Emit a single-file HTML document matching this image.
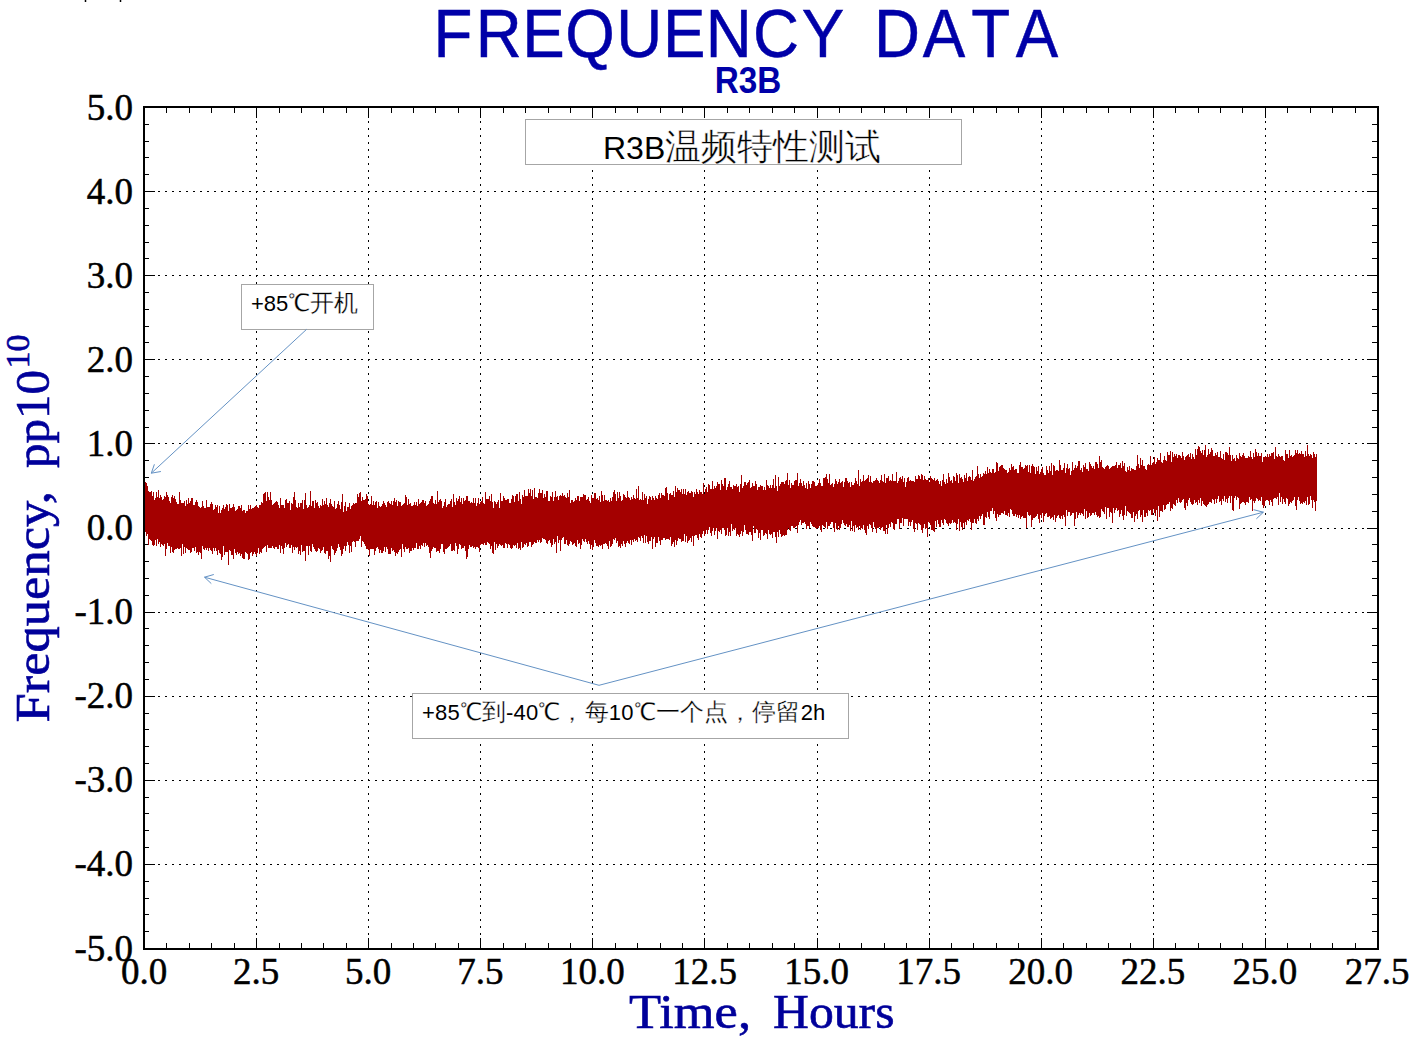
<!DOCTYPE html>
<html><head><meta charset="utf-8">
<style>
html,body{margin:0;padding:0;background:#fff;width:1411px;height:1038px;overflow:hidden}
svg{display:block}
.serif{font-family:"Liberation Serif",serif}
.sans{font-family:"Liberation Sans",sans-serif}
</style></head><body>
<svg width="1411" height="1038" viewBox="0 0 1411 1038">
<rect width="1411" height="1038" fill="#fff"/>
<path d="M85.5 0v2M120.5 0v2" stroke="#000" stroke-width="1.5"/>
<text class="sans" transform="translate(0 57) scale(0.93 1)" x="487.1 536.2 584.4 634.4 687.3 735.8 783.7 834.4 884.9 964.5 1015.1 1065.2 1115.1" y="0" text-anchor="middle" font-size="68.5" fill="#0000a8" stroke="#0000a8" stroke-width="0.5" style="font-kerning:none">FREQUENCYDATA</text>
<text class="sans" transform="translate(748 93) scale(0.9 1)" x="0" y="0" text-anchor="middle" font-size="37" font-weight="bold" fill="#0000a8">R3B</text>
<path d="M144 864.5H1377M144 780.5H1377M144 696.5H1377M144 612.5H1377M144 528.5H1377M144 443.5H1377M144 359.5H1377M144 275.5H1377M144 191.5H1377" stroke="#000" stroke-width="1" stroke-dasharray="2 5" fill="none" shape-rendering="crispEdges"/>
<path d="M256.5 107V948M368.5 107V948M480.5 107V948M592.5 107V948M704.5 107V948M817.5 107V948M929.5 107V948M1041.5 107V948M1153.5 107V948M1265.5 107V948" stroke="#000" stroke-width="1" stroke-dasharray="1.5 5.5" fill="none" shape-rendering="crispEdges"/>
<path d="M145 107.5h10M1367 107.5h10M145 124.5h4M1372 124.5h5M145 141.5h4M1372 141.5h5M145 157.5h4M1372 157.5h5M145 174.5h4M1372 174.5h5M145 191.5h10M1367 191.5h10M145 208.5h4M1372 208.5h5M145 225.5h4M1372 225.5h5M145 242.5h4M1372 242.5h5M145 258.5h4M1372 258.5h5M145 275.5h10M1367 275.5h10M145 292.5h4M1372 292.5h5M145 309.5h4M1372 309.5h5M145 326.5h4M1372 326.5h5M145 342.5h4M1372 342.5h5M145 359.5h10M1367 359.5h10M145 376.5h4M1372 376.5h5M145 393.5h4M1372 393.5h5M145 410.5h4M1372 410.5h5M145 427.5h4M1372 427.5h5M145 443.5h10M1367 443.5h10M145 460.5h4M1372 460.5h5M145 477.5h4M1372 477.5h5M145 494.5h4M1372 494.5h5M145 511.5h4M1372 511.5h5M145 528.5h10M1367 528.5h10M145 544.5h4M1372 544.5h5M145 561.5h4M1372 561.5h5M145 578.5h4M1372 578.5h5M145 595.5h4M1372 595.5h5M145 612.5h10M1367 612.5h10M145 628.5h4M1372 628.5h5M145 645.5h4M1372 645.5h5M145 662.5h4M1372 662.5h5M145 679.5h4M1372 679.5h5M145 696.5h10M1367 696.5h10M145 713.5h4M1372 713.5h5M145 729.5h4M1372 729.5h5M145 746.5h4M1372 746.5h5M145 763.5h4M1372 763.5h5M145 780.5h10M1367 780.5h10M145 797.5h4M1372 797.5h5M145 813.5h4M1372 813.5h5M145 830.5h4M1372 830.5h5M145 847.5h4M1372 847.5h5M145 864.5h10M1367 864.5h10M145 881.5h4M1372 881.5h5M145 898.5h4M1372 898.5h5M145 914.5h4M1372 914.5h5M145 931.5h4M1372 931.5h5M145 948.5h10M1367 948.5h10M144.5 108v10M144.5 938v10M166.5 108v5M166.5 943v5M189.5 108v5M189.5 943v5M211.5 108v5M211.5 943v5M234.5 108v5M234.5 943v5M256.5 108v10M256.5 938v10M279.5 108v5M279.5 943v5M301.5 108v5M301.5 943v5M323.5 108v5M323.5 943v5M346.5 108v5M346.5 943v5M368.5 108v10M368.5 938v10M391.5 108v5M391.5 943v5M413.5 108v5M413.5 943v5M435.5 108v5M435.5 943v5M458.5 108v5M458.5 943v5M480.5 108v10M480.5 938v10M503.5 108v5M503.5 943v5M525.5 108v5M525.5 943v5M548.5 108v5M548.5 943v5M570.5 108v5M570.5 943v5M592.5 108v10M592.5 938v10M615.5 108v5M615.5 943v5M637.5 108v5M637.5 943v5M660.5 108v5M660.5 943v5M682.5 108v5M682.5 943v5M704.5 108v10M704.5 938v10M727.5 108v5M727.5 943v5M749.5 108v5M749.5 943v5M772.5 108v5M772.5 943v5M794.5 108v5M794.5 943v5M817.5 108v10M817.5 938v10M839.5 108v5M839.5 943v5M861.5 108v5M861.5 943v5M884.5 108v5M884.5 943v5M906.5 108v5M906.5 943v5M929.5 108v10M929.5 938v10M951.5 108v5M951.5 943v5M973.5 108v5M973.5 943v5M996.5 108v5M996.5 943v5M1018.5 108v5M1018.5 943v5M1041.5 108v10M1041.5 938v10M1063.5 108v5M1063.5 943v5M1086.5 108v5M1086.5 943v5M1108.5 108v5M1108.5 943v5M1130.5 108v5M1130.5 943v5M1153.5 108v10M1153.5 938v10M1175.5 108v5M1175.5 943v5M1198.5 108v5M1198.5 943v5M1220.5 108v5M1220.5 943v5M1242.5 108v5M1242.5 943v5M1265.5 108v10M1265.5 938v10M1287.5 108v5M1287.5 943v5M1310.5 108v5M1310.5 943v5M1332.5 108v5M1332.5 943v5M1355.5 108v5M1355.5 943v5M1377.5 108v10M1377.5 938v10" stroke="#000" stroke-width="1" fill="none" shape-rendering="crispEdges"/>
<path d="M144 479H145V482H146V483H147V486H148V491H149V492H150V492H151V491H152V496H153V492H154V500H155V498H156V492H157V497H158V490H159V498H160V495H161V497H162V500H163V499H164V496H165V497H166V492H167V495H168V497H169V501H170V503H171V497H172V495H173V498H174V496H175V499H176V502H177V504H178V504H179V492H180V500H181V503H182V503H183V503H184V501H185V506H186V500H187V504H188V498H189V503H190V501H191V498H192V498H193V505H194V505H195V502H196V500H197V502H198V506H199V507H200V508H201V507H202V501H203V506H204V508H205V508H206V500H207V507H208V507H209V507H210V504H211V502H212V504H213V510H214V509H215V505H216V507H217V505H218V513H219V506H220V513H221V510H222V508H223V505H224V509H225V507H226V504H227V505H228V511H229V504H230V508H231V508H232V507H233V504H234V507H235V511H236V510H237V509H238V506H239V506H240V508H241V505H242V511H243V510H244V510H245V513H246V511H247V511H248V505H249V509H250V505H251V509H252V508H253V508H254V507H255V506H256V505H257V507H258V508H259V505H260V505H261V502H262V503H263V494H264V493H265V492H266V501H267V492H268V497H269V500H270V492H271V500H272V505H273V504H274V503H275V502H276V501H277V502H278V505H279V508H280V498H281V505H282V505H283V505H284V508H285V500H286V499H287V503H288V503H289V501H290V510H291V503H292V504H293V497H294V492H295V500H296V507H297V508H298V503H299V507H300V503H301V503H302V500H303V509H304V500H305V493H306V505H307V508H308V507H309V505H310V491H311V506H312V501H313V501H314V508H315V500H316V503H317V502H318V506H319V508H320V505H321V506H322V499H323V505H324V501H325V504H326V498H327V505H328V507H329V503H330V499H331V504H332V506H333V507H334V501H335V509H336V508H337V504H338V501H339V505H340V509H341V502H342V494H343V512H344V506H345V502H346V511H347V507H348V507H349V503H350V509H351V506H352V505H353V503H354V504H355V503H356V503H357V494H358V497H359V493H360V492H361V501H362V497H363V500H364V500H365V499H366V494H367V496H368V504H369V505H370V504H371V496H372V505H373V501H374V505H375V502H376V501H377V508H378V502H379V506H380V507H381V506H382V504H383V501H384V503H385V505H386V507H387V502H388V501H389V503H390V504H391V501H392V505H393V501H394V498H395V502H396V500H397V506H398V501H399V502H400V502H401V506H402V505H403V504H404V503H405V495H406V497H407V505H408V499H409V504H410V503H411V506H412V506H413V505H414V502H415V505H416V502H417V506H418V499H419V504H420V503H421V502H422V500H423V500H424V503H425V501H426V506H427V505H428V504H429V501H430V499H431V496H432V496H433V503H434V504H435V500H436V504H437V491H438V502H439V500H440V499H441V501H442V508H443V506H444V502H445V499H446V507H447V505H448V504H449V504H450V501H451V499H452V507H453V494H454V502H455V505H456V498H457V501H458V499H459V496H460V502H461V498H462V504H463V498H464V501H465V500H466V496H467V496H468V501H469V501H470V503H471V502H472V503H473V498H474V503H475V498H476V506H477V503H478V498H479V504H480V502H481V501H482V497H483V503H484V504H485V492H486V499H487V499H488V499H489V496H490V501H491V494H492V502H493V508H494V501H495V502H496V504H497V502H498V500H499V508H500V493H501V501H502V501H503V496H504V498H505V500H506V500H507V499H508V499H509V503H510V503H511V499H512V495H513V496H514V502H515V496H516V494H517V494H518V501H519V492H520V499H521V504H522V495H523V497H524V490H525V496H526V496H527V496H528V489H529V493H530V489H531V496H532V490H533V499H534V488H535V497H536V497H537V498H538V493H539V489H540V493H541V493H542V490H543V498H544V494H545V497H546V491H547V491H548V501H549V501H550V496H551V497H552V492H553V501H554V497H555V491H556V497H557V496H558V500H559V496H560V495H561V496H562V493H563V496H564V495H565V497H566V498H567V493H568V497H569V490H570V503H571V500H572V500H573V502H574V501H575V498H576V500H577V496H578V496H579V501H580V497H581V497H582V497H583V494H584V495H585V495H586V500H587V499H588V497H589V501H590V503H591V495H592V498H593V498H594V493H595V493H596V499H597V498H598V500H599V496H600V502H601V491H602V495H603V501H604V495H605V500H606V500H607V501H608V500H609V502H610V498H611V501H612V497H613V492H614V490H615V494H616V501H617V492H618V498H619V492H620V496H621V501H622V500H623V494H624V495H625V497H626V498H627V491H628V497H629V498H630V500H631V497H632V499H633V495H634V498H635V499H636V489H637V498H638V486H639V500H640V499H641V500H642V492H643V500H644V494H645V498H646V496H647V504H648V499H649V496H650V497H651V500H652V496H653V498H654V500H655V496H656V498H657V499H658V495H659V493H660V498H661V493H662V495H663V495H664V496H665V488H666V487H667V493H668V500H669V494H670V493H671V495H672V495H673V491H674V497H675V486H676V492H677V488H678V490H679V490H680V492H681V489H682V494H683V489H684V494H685V489H686V495H687V492H688V491H689V493H690V493H691V491H692V492H693V497H694V492H695V494H696V489H697V492H698V494H699V490H700V492H701V492H702V494H703V483H704V494H705V489H706V487H707V492H708V484H709V485H710V489H711V489H712V481H713V489H714V486H715V488H716V486H717V482H718V484H719V484H720V490H721V480H722V484H723V486H724V478H725V478H726V490H727V487H728V484H729V481H730V487H731V487H732V489H733V485H734V486H735V486H736V484H737V487H738V486H739V492H740V484H741V475H742V488H743V486H744V482H745V482H746V485H747V483H748V482H749V480H750V488H751V487H752V483H753V486H754V486H755V481H756V484H757V490H758V487H759V487H760V485H761V486H762V486H763V490H764V487H765V490H766V480H767V485H768V486H769V488H770V485H771V488H772V485H773V479H774V488H775V475H776V486H777V491H778V477H779V486H780V484H781V482H782V482H783V482H784V484H785V481H786V480H787V473H788V485H789V480H790V488H791V483H792V485H793V485H794V481H795V480H796V480H797V473H798V486H799V483H800V479H801V483H802V486H803V481H804V485H805V488H806V483H807V489H808V481H809V484H810V488H811V484H812V481H813V481H814V482H815V486H816V486H817V485H818V483H819V479H820V483H821V486H822V486H823V478H824V478H825V477H826V474H827V479H828V483H829V474H830V485H831V484H832V483H833V487H834V484H835V479H836V481H837V484H838V482H839V479H840V483H841V482H842V481H843V487H844V482H845V478H846V478H847V481H848V483H849V482H850V487H851V482H852V485H853V485H854V483H855V478H856V481H857V484H858V470H859V486H860V479H861V482H862V481H863V475H864V481H865V480H866V479H867V478H868V475H869V482H870V476H871V482H872V483H873V481H874V481H875V480H876V478H877V480H878V481H879V483H880V480H881V475H882V481H883V482H884V474H885V483H886V478H887V478H888V476H889V481H890V480H891V481H892V474H893V481H894V481H895V481H896V472H897V483H898V481H899V478H900V477H901V479H902V476H903V482H904V478H905V487H906V482H907V478H908V477H909V481H910V480H911V481H912V481H913V481H914V482H915V476H916V479H917V479H918V475H919V476H920V479H921V474H922V475H923V480H924V476H925V479H926V480H927V480H928V478H929V482H930V476H931V478H932V479H933V480H934V478H935V481H936V480H937V479H938V481H939V484H940V481H941V486H942V480H943V474H944V482H945V484H946V479H947V483H948V473H949V477H950V481H951V480H952V483H953V476H954V477H955V481H956V473H957V475H958V483H959V474H960V478H961V477H962V479H963V482H964V475H965V478H966V473H967V481H968V477H969V476H970V477H971V480H972V470H973V481H974V479H975V477H976V476H977V466H978V474H979V478H980V474H981V477H982V476H983V473H984V474H985V471H986V474H987V467H988V473H989V469H990V472H991V473H992V469H993V469H994V473H995V472H996V462H997V463H998V471H999V467H1000V466H1001V465H1002V465H1003V468H1004V469H1005V470H1006V470H1007V473H1008V472H1009V468H1010V470H1011V464H1012V467H1013V466H1014V470H1015V469H1016V469H1017V473H1018V473H1019V465H1020V462H1021V467H1022V467H1023V469H1024V468H1025V465H1026V466H1027V465H1028V472H1029V465H1030V473H1031V466H1032V464H1033V466H1034V467H1035V474H1036V467H1037V471H1038V466H1039V474H1040V472H1041V469H1042V467H1043V473H1044V475H1045V475H1046V466H1047V470H1048V473H1049V466H1050V471H1051V463H1052V475H1053V465H1054V466H1055V471H1056V470H1057V470H1058V471H1059V460H1060V465H1061V470H1062V470H1063V468H1064V463H1065V473H1066V468H1067V464H1068V469H1069V468H1070V475H1071V471H1072V462H1073V470H1074V468H1075V465H1076V468H1077V466H1078V461H1079V461H1080V470H1081V468H1082V472H1083V465H1084V467H1085V463H1086V469H1087V469H1088V471H1089V462H1090V464H1091V466H1092V468H1093V466H1094V469H1095V462H1096V462H1097V464H1098V468H1099V456H1100V462H1101V460H1102V467H1103V468H1104V469H1105V467H1106V466H1107V465H1108V466H1109V469H1110V468H1111V467H1112V466H1113V466H1114V466H1115V465H1116V462H1117V468H1118V465H1119V465H1120V463H1121V468H1122V461H1123V466H1124V463H1125V471H1126V472H1127V467H1128V470H1129V466H1130V471H1131V468H1132V469H1133V469H1134V470H1135V470H1136V466H1137V455H1138V464H1139V468H1140V458H1141V465H1142V460H1143V466H1144V466H1145V469H1146V470H1147V465H1148V464H1149V465H1150V456H1151V465H1152V463H1153V462H1154V457H1155V464H1156V462H1157V458H1158V460H1159V460H1160V453H1161V462H1162V463H1163V460H1164V456H1165V460H1166V461H1167V452H1168V455H1169V455H1170V451H1171V462H1172V452H1173V457H1174V454H1175V456H1176V454H1177V458H1178V455H1179V455H1180V456H1181V458H1182V452H1183V456H1184V460H1185V457H1186V456H1187V455H1188V454H1189V457H1190V453H1191V459H1192V454H1193V457H1194V459H1195V449H1196V455H1197V449H1198V446H1199V447H1200V451H1201V453H1202V450H1203V455H1204V450H1205V445H1206V457H1207V455H1208V449H1209V454H1210V452H1211V448H1212V450H1213V456H1214V456H1215V453H1216V455H1217V452H1218V457H1219V457H1220V451H1221V458H1222V459H1223V454H1224V460H1225V452H1226V452H1227V453H1228V455H1229V447H1230V455H1231V461H1232V455H1233V459H1234V458H1235V461H1236V455H1237V458H1238V459H1239V453H1240V456H1241V457H1242V455H1243V453H1244V456H1245V458H1246V458H1247V458H1248V456H1249V457H1250V451H1251V457H1252V459H1253V453H1254V457H1255V449H1256V452H1257V456H1258V453H1259V456H1260V456H1261V453H1262V462H1263V457H1264V457H1265V456H1266V457H1267V454H1268V457H1269V454H1270V456H1271V453H1272V453H1273V452H1274V459H1275V447H1276V456H1277V457H1278V454H1279V456H1280V457H1281V456H1282V456H1283V460H1284V461H1285V450H1286V454H1287V454H1288V458H1289V450H1290V456H1291V455H1292V457H1293V456H1294V455H1295V450H1296V453H1297V450H1298V454H1299V453H1300V454H1301V451H1302V454H1303V454H1304V457H1305V451H1306V456H1307V445H1308V454H1309V456H1310V454H1311V455H1312V458H1313V452H1314V454H1315V457H1316V454H1317V501H1316V511H1315V502H1314V500H1313V508H1312V500H1311V496H1310V504H1309V505H1308V497H1307V505H1306V501H1305V503H1304V502H1303V504H1302V503H1301V504H1300V501H1299V497H1298V500H1297V510H1296V506H1295V497H1294V500H1293V501H1292V503H1291V502H1290V504H1289V506H1288V499H1287V498H1286V504H1285V502H1284V499H1283V504H1282V497H1281V502H1280V493H1279V505H1278V497H1277V499H1276V498H1275V498H1274V499H1273V506H1272V502H1271V500H1270V505H1269V501H1268V500H1267V500H1266V501H1265V506H1264V508H1263V505H1262V497H1261V501H1260V500H1259V501H1258V499H1257V498H1256V501H1255V503H1254V501H1253V511H1252V499H1251V500H1250V497H1249V503H1248V502H1247V502H1246V505H1245V503H1244V502H1243V502H1242V503H1241V504H1240V509H1239V498H1238V497H1237V500H1236V496H1235V498H1234V511H1233V510H1232V496H1231V503H1230V496H1229V498H1228V503H1227V499H1226V502H1225V496H1224V501H1223V499H1222V505H1221V501H1220V502H1219V496H1218V499H1217V503H1216V499H1215V504H1214V500H1213V499H1212V503H1211V502H1210V502H1209V504H1208V505H1207V507H1206V506H1205V505H1204V504H1203V501H1202V506H1201V498H1200V503H1199V500H1198V505H1197V502H1196V503H1195V500H1194V504H1193V505H1192V504H1191V502H1190V498H1189V500H1188V506H1187V503H1186V510H1185V508H1184V499H1183V500H1182V502H1181V503H1180V502H1179V498H1178V503H1177V500H1176V506H1175V505H1174V504H1173V509H1172V508H1171V511H1170V502H1169V504H1168V504H1167V505H1166V509H1165V510H1164V505H1163V512H1162V511H1161V511H1160V517H1159V506H1158V521H1157V510H1156V516H1155V513H1154V509H1153V515H1152V515H1151V510H1150V511H1149V510H1148V516H1147V513H1146V517H1145V517H1144V510H1143V522H1142V515H1141V517H1140V510H1139V511H1138V519H1137V514H1136V516H1135V522H1134V512H1133V518H1132V518H1131V514H1130V513H1129V512H1128V511H1127V516H1126V506H1125V515H1124V520H1123V516H1122V510H1121V514H1120V517H1119V510H1118V511H1117V508H1116V510H1115V513H1114V508H1113V523H1112V513H1111V512H1110V517H1109V508H1108V508H1107V519H1106V507H1105V514H1104V512H1103V511H1102V509H1101V517H1100V518H1099V516H1098V517H1097V515H1096V512H1095V515H1094V513H1093V513H1092V515H1091V516H1090V513H1089V517H1088V518H1087V511H1086V519H1085V509H1084V516H1083V514H1082V513H1081V515H1080V513H1079V515H1078V518H1077V512H1076V519H1075V526H1074V513H1073V513H1072V515H1071V516H1070V512H1069V512H1068V516H1067V510H1066V526H1065V517H1064V515H1063V519H1062V516H1061V519H1060V518H1059V515H1058V516H1057V518H1056V522H1055V515H1054V520H1053V517H1052V518H1051V519H1050V516H1049V517H1048V517H1047V513H1046V514H1045V516H1044V522H1043V513H1042V518H1041V515H1040V523H1039V519H1038V514H1037V516H1036V517H1035V518H1034V518H1033V520H1032V527H1031V515H1030V516H1029V515H1028V512H1027V528H1026V518H1025V518H1024V518H1023V516H1022V517H1021V519H1020V515H1019V518H1018V515H1017V517H1016V514H1015V516H1014V516H1013V514H1012V510H1011V509H1010V517H1009V513H1008V516H1007V515H1006V515H1005V511H1004V514H1003V513H1002V513H1001V515H1000V515H999V517H998V514H997V521H996V518H995V511H994V514H993V508H992V511H991V511H990V519H989V517H988V512H987V518H986V517H985V525H984V525H983V514H982V516H981V519H980V516H979V521H978V519H977V524H976V523H975V519H974V523H973V523H972V530H971V522H970V519H969V521H968V520H967V525H966V522H965V528H964V523H963V530H962V527H961V522H960V531H959V519H958V524H957V530H956V523H955V522H954V523H953V520H952V523H951V524H950V523H949V526H948V524H947V523H946V520H945V519H944V525H943V523H942V520H941V527H940V527H939V524H938V520H937V527H936V521H935V532H934V531H933V530H932V530H931V525H930V523H929V522H928V537H927V528H926V529H925V524H924V528H923V533H922V530H921V525H920V524H919V523H918V530H917V524H916V523H915V532H914V529H913V520H912V522H911V526H910V522H909V526H908V519H907V519H906V519H905V519H904V526H903V518H902V523H901V523H900V529H899V519H898V519H897V524H896V524H895V530H894V529H893V523H892V522H891V527H890V524H889V528H888V534H887V525H886V534H885V531H884V531H883V527H882V528H881V530H880V527H879V528H878V528H877V533H876V529H875V527H874V522H873V532H872V528H871V525H870V524H869V529H868V526H867V535H866V533H865V530H864V525H863V529H862V528H861V530H860V526H859V530H858V527H857V528H856V525H855V532H854V526H853V531H852V521H851V531H850V525H849V527H848V527H847V524H846V526H845V525H844V523H843V520H842V524H841V528H840V530H839V526H838V530H837V529H836V523H835V532H834V528H833V522H832V522H831V524H830V526H829V526H828V529H827V522H826V528H825V527H824V526H823V525H822V532H821V530H820V526H819V528H818V528H817V529H816V528H815V527H814V527H813V526H812V524H811V522H810V528H809V526H808V526H807V529H806V524H805V522H804V523H803V523H802V525H801V520H800V522H799V525H798V533H797V526H796V527H795V528H794V528H793V526H792V526H791V531H790V530H789V528H788V530H787V535H786V535H785V536H784V535H783V536H782V537H781V534H780V530H779V537H778V532H777V543H776V537H775V532H774V532H773V538H772V534H771V535H770V534H769V530H768V539H767V534H766V533H765V535H764V536H763V530H762V530H761V540H760V533H759V538H758V530H757V529H756V533H755V533H754V526H753V541H752V535H751V532H750V532H749V535H748V534H747V534H746V530H745V525H744V532H743V536H742V531H741V534H740V537H739V535H738V534H737V536H736V528H735V530H734V529H733V531H732V524H731V536H730V532H729V536H728V528H727V535H726V536H725V530H724V528H723V528H722V534H721V530H720V532H719V531H718V539H717V528H716V531H715V535H714V528H713V531H712V536H711V533H710V527H709V530H708V534H707V530H706V534H705V536H704V531H703V534H702V538H701V537H700V534H699V540H698V538H697V535H696V535H695V536H694V546H693V536H692V542H691V538H690V540H689V541H688V543H687V536H686V542H685V534H684V541H683V541H682V542H681V539H680V539H679V538H678V541H677V545H676V540H675V547H674V542H673V544H672V546H671V537H670V540H669V539H668V539H667V539H666V540H665V538H664V538H663V540H662V540H661V545H660V541H659V537H658V543H657V543H656V547H655V537H654V539H653V549H652V537H651V541H650V541H649V544H648V542H647V536H646V543H645V535H644V543H643V538H642V536H641V541H640V538H639V537H638V542H637V540H636V541H635V539H634V542H633V540H632V545H631V540H630V544H629V543H628V541H627V543H626V547H625V544H624V541H623V546H622V544H621V548H620V546H619V547H618V541H617V543H616V538H615V540H614V539H613V544H612V546H611V547H610V541H609V549H608V546H607V544H606V543H605V544H604V544H603V549H602V545H601V546H600V545H599V547H598V546H597V546H596V543H595V540H594V547H593V550H592V545H591V549H590V544H589V541H588V544H587V542H586V539H585V542H584V541H583V539H582V545H581V549H580V543H579V544H578V540H577V547H576V546H575V543H574V544H573V545H572V542H571V541H570V544H569V546H568V545H567V540H566V544H565V544H564V537H563V538H562V540H561V551H560V540H559V543H558V536H557V553H556V542H555V544H554V539H553V545H552V547H551V543H550V540H549V541H548V544H547V543H546V540H545V539H544V539H543V538H542V542H541V543H540V540H539V542H538V540H537V543H536V543H535V542H534V544H533V545H532V547H531V542H530V542H529V546H528V547H527V543H526V545H525V544H524V547H523V548H522V542H521V550H520V548H519V549H518V543H517V548H516V545H515V546H514V545H513V548H512V549H511V548H510V545H509V544H508V548H507V544H506V543H505V548H504V548H503V545H502V546H501V545H500V544H499V546H498V548H497V544H496V550H495V542H494V554H493V553H492V546H491V549H490V544H489V543H488V542H487V545H486V545H485V543H484V545H483V544H482V544H481V545H480V552H479V548H478V547H477V547H476V549H475V547H474V548H473V546H472V547H471V547H470V545H469V549H468V557H467V559H466V551H465V546H464V548H463V548H462V549H461V545H460V544H459V549H458V554H457V546H456V543H455V551H454V550H453V551H452V551H451V544H450V546H449V547H448V548H447V549H446V549H445V554H444V552H443V544H442V544H441V549H440V553H439V551H438V551H437V552H436V548H435V548H434V547H433V549H432V551H431V558H430V553H429V547H428V545H427V546H426V543H425V547H424V543H423V546H422V545H421V549H420V546H419V549H418V549H417V543H416V548H415V548H414V550H413V548H412V551H411V551H410V553H409V548H408V549H407V549H406V547H405V552H404V549H403V544H402V557H401V549H400V550H399V552H398V554H397V553H396V556H395V552H394V550H393V551H392V548H391V554H390V554H389V554H388V549H387V547H386V552H385V547H384V551H383V553H382V553H381V550H380V553H379V549H378V547H377V548H376V551H375V555H374V549H373V549H372V549H371V549H370V556H369V550H368V549H367V549H366V546H365V544H364V542H363V541H362V547H361V536H360V539H359V541H358V541H357V541H356V547H355V542H354V541H353V542H352V552H351V546H350V553H349V545H348V542H347V546H346V551H345V546H344V549H343V554H342V556H341V550H340V547H339V544H338V548H337V551H336V553H335V555H334V550H333V549H332V546H331V562H330V556H329V559H328V551H327V551H326V554H325V553H324V547H323V550H322V551H321V553H320V549H319V548H318V551H317V552H316V551H315V549H314V547H313V544H312V552H311V551H310V546H309V555H308V546H307V546H306V561H305V551H304V551H303V552H302V545H301V555H300V551H299V554H298V547H297V548H296V547H295V550H294V547H293V553H292V545H291V548H290V548H289V544H288V545H287V547H286V543H285V548H284V554H283V549H282V546H281V553H280V545H279V549H278V549H277V547H276V547H275V549H274V548H273V546H272V548H271V548H270V548H269V548H268V545H267V552H266V546H265V547H264V548H263V549H262V553H261V552H260V554H259V548H258V553H257V556H256V554H255V552H254V554H253V556H252V552H251V553H250V559H249V560H248V554H247V553H246V552H245V559H244V559H243V558H242V554H241V556H240V553H239V554H238V552H237V555H236V553H235V549H234V559H233V555H232V555H231V551H230V550H229V565H228V552H227V552H226V552H225V555H224V546H223V557H222V560H221V554H220V553H219V550H218V555H217V551H216V548H215V551H214V548H213V554H212V551H211V550H210V548H209V551H208V548H207V550H206V548H205V550H204V549H203V546H202V559H201V553H200V552H199V555H198V552H197V553H196V547H195V551H194V548H193V548H192V552H191V553H190V550H189V550H188V549H187V548H186V553H185V547H184V554H183V544H182V556H181V548H180V549H179V549H178V548H177V549H176V549H175V550H174V553H173V552H172V547H171V553H170V546H169V546H168V543H167V549H166V556H165V544H164V546H163V545H162V544H161V547H160V542H159V544H158V539H157V546H156V540H155V545H154V546H153V545H152V541H151V540H150V539H149V545H148V534H147V536H146V532H145V532H144Z" fill="#a40000" shape-rendering="crispEdges"/>
<rect x="144" y="107" width="1234" height="842" fill="none" stroke="#000" stroke-width="2" shape-rendering="crispEdges"/>
<g class="serif" font-size="37" fill="#000" stroke="#000" stroke-width="0.5">
<text x="133" y="119.5" text-anchor="end">5.0</text><text x="133" y="203.6" text-anchor="end">4.0</text><text x="133" y="287.7" text-anchor="end">3.0</text><text x="133" y="371.8" text-anchor="end">2.0</text><text x="133" y="455.9" text-anchor="end">1.0</text><text x="133" y="540.0" text-anchor="end">0.0</text><text x="133" y="624.1" text-anchor="end">-1.0</text><text x="133" y="708.2" text-anchor="end">-2.0</text><text x="133" y="792.3" text-anchor="end">-3.0</text><text x="133" y="876.4" text-anchor="end">-4.0</text><text x="133" y="960.5" text-anchor="end">-5.0</text>
<text x="144.0" y="984" text-anchor="middle">0.0</text><text x="256.1" y="984" text-anchor="middle">2.5</text><text x="368.2" y="984" text-anchor="middle">5.0</text><text x="480.3" y="984" text-anchor="middle">7.5</text><text x="592.4" y="984" text-anchor="middle">10.0</text><text x="704.5" y="984" text-anchor="middle">12.5</text><text x="816.5" y="984" text-anchor="middle">15.0</text><text x="928.6" y="984" text-anchor="middle">17.5</text><text x="1040.7" y="984" text-anchor="middle">20.0</text><text x="1152.8" y="984" text-anchor="middle">22.5</text><text x="1264.9" y="984" text-anchor="middle">25.0</text><text x="1377.0" y="984" text-anchor="middle">27.5</text>
</g>
<g class="serif" fill="#00009a" stroke="#00009a" stroke-width="0.6" font-size="48">
<text x="629" y="1028" textLength="122" lengthAdjust="spacingAndGlyphs">Time,</text>
<text x="773" y="1028" textLength="121.5" lengthAdjust="spacingAndGlyphs">Hours</text>
<g transform="translate(48.6 0) rotate(-90)">
<text x="-722.5" y="0" textLength="231.5" lengthAdjust="spacingAndGlyphs">Frequency,</text>
<text x="-468" y="0" textLength="98" lengthAdjust="spacingAndGlyphs">pp10</text>
<text x="-368.5" y="-20" font-size="34" textLength="34" lengthAdjust="spacingAndGlyphs">10</text>
</g>
</g>
<!-- annotation boxes -->
<rect x="525.5" y="119.5" width="436" height="45" fill="#fff" stroke="#a6a6a6" stroke-width="1"/>
<text class="sans" x="603" y="158.8" font-size="32" fill="#000">R3B<tspan font-size="36" stroke="#fff" stroke-width="0.45">温频特性测试</tspan></text>
<rect x="241.5" y="284.5" width="132" height="45" fill="#fff" stroke="#a6a6a6" stroke-width="1"/>
<text class="sans" x="251" y="310.8" font-size="22" fill="#000">+85<tspan font-size="24" stroke="#fff" stroke-width="0.3">℃开机</tspan></text>
<rect x="412.5" y="693.5" width="436" height="45" fill="#fff" stroke="#a6a6a6" stroke-width="1"/>
<text class="sans" x="422" y="719.7" font-size="22" fill="#000" letter-spacing="0.15">+85<tspan font-size="24" stroke="#fff" stroke-width="0.3">℃到</tspan>-40<tspan font-size="24" stroke="#fff" stroke-width="0.3">℃，每</tspan>10<tspan font-size="24" stroke="#fff" stroke-width="0.3">℃一个点，停留</tspan>2h</text>
<!-- arrows -->
<g stroke="#6492c4" stroke-width="1" fill="none">
<path d="M306.5 329.4L151.3 473.2M154.4 464.3L151.3 473.2L160.9 471.5"/>
<path d="M599 685.3L204.5 577.2M213.8 574.5L204.5 577.2L211.3 583.6"/>
<path d="M599 685.3L1263.4 512.2M1253.6 509.7L1263.4 512.2L1256.4 518.8"/>
</g>
</svg>
</body></html>
